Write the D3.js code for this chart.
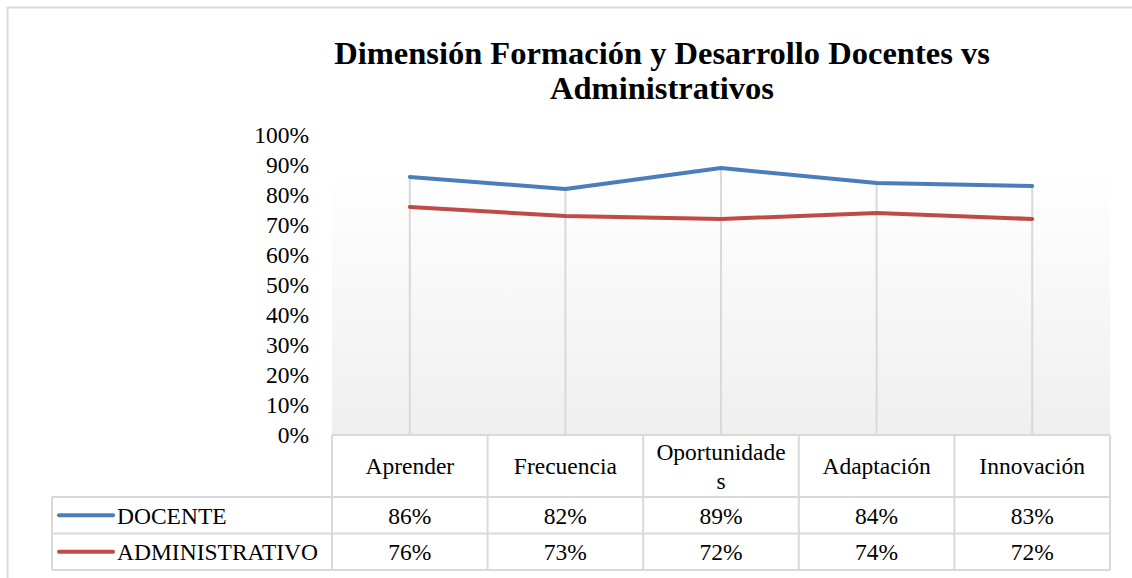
<!DOCTYPE html>
<html>
<head>
<meta charset="utf-8">
<script src="https://cdn.jsdelivr.net/npm/d3@7"></script>
</head>
<body style="margin:0">
<svg width="1132" height="578" font-family="Liberation Serif"></svg>
<script>
// data
let categories = ["Aprender", "Frecuencia", "Oportunidades", "Adaptación", "Innovación"];
let headerLines = [["Aprender"], ["Frecuencia"], ["Oportunidade", "s"], ["Adaptación"], ["Innovación"]];
let docente = [0.86, 0.82, 0.89, 0.84, 0.83];
let administrativo = [0.76, 0.73, 0.72, 0.74, 0.72];
let yTicks = [0, 0.1, 0.2, 0.3, 0.4, 0.5, 0.6, 0.7, 0.8, 0.9, 1];
let seriesNames = ["DOCENTE", "ADMINISTRATIVO"];
let seriesColors = ["#4a7ebb", "#be4b48"];

let svg = d3.select("svg");
let series = [docente, administrativo];

let plot = { left: 332, right: 1110, top: 135, bottom: 435 };
let gridColor = "#d9d9d9";
let serif = "'Liberation Serif'";
let fontSize = "23.5px";

let x = d3.scaleBand()
    .domain(categories)
    .range([plot.left, plot.right]);

let y = d3.scaleLinear()
    .domain([0, 1])
    .range([plot.bottom, plot.top]);

let cx = c => x(c) + x.bandwidth() / 2;

// outer frame (cropped on right and bottom)
svg.append("rect")
    .attr("x", 7.5).attr("y", 7.5)
    .attr("width", 1140).attr("height", 600)
    .attr("fill", "none")
    .attr("stroke", "#d9d9d9")
    .attr("stroke-width", 2);

// title
["Dimensión Formación y Desarrollo Docentes vs", "Administrativos"].forEach((t, i) => {
    svg.append("text")
        .attr("x", 662)
        .attr("y", 64 + i * 35)
        .attr("text-anchor", "middle")
        .style("font-family", serif)
        .style("font-size", "32.5px")
        .style("font-weight", "bold")
        .text(t);
});

// plot area gradient
let defs = svg.append("defs");
let grad = defs.append("linearGradient")
    .attr("id", "plotGrad")
    .attr("x1", 0).attr("y1", 0).attr("x2", 0).attr("y2", 1);
grad.append("stop").attr("offset", "0%").attr("stop-color", "#ffffff");
grad.append("stop").attr("offset", "100%").attr("stop-color", "#efefef");

svg.append("rect")
    .attr("x", plot.left)
    .attr("y", y(0.88))
    .attr("width", plot.right - plot.left)
    .attr("height", plot.bottom - y(0.88))
    .attr("fill", "url(#plotGrad)");

// y axis labels
svg.append("g")
    .selectAll("text")
    .data(yTicks)
    .enter().append("text")
    .attr("x", 309)
    .attr("y", d => y(d) + 8)
    .attr("text-anchor", "end")
    .style("font-family", serif)
    .style("font-size", fontSize)
    .text(d => d3.format(".0%")(d));

// drop lines
svg.append("g")
    .selectAll("line")
    .data(categories)
    .enter().append("line")
    .attr("x1", d => cx(d))
    .attr("x2", d => cx(d))
    .attr("y1", (d, i) => y(d3.max(series, s => s[i])))
    .attr("y2", plot.bottom)
    .attr("stroke", gridColor)
    .attr("stroke-width", 2);

// lines
let line = d3.line()
    .x((d, i) => cx(categories[i]))
    .y(d => y(d));

svg.append("g")
    .selectAll("path")
    .data(series)
    .enter().append("path")
    .attr("d", d => line(d))
    .attr("fill", "none")
    .attr("stroke", (d, i) => seriesColors[i])
    .attr("stroke-width", 4)
    .attr("stroke-linejoin", "round")
    .attr("stroke-linecap", "round");

// data table
let table = svg.append("g");
let headerBottom = 497, rowH = 36.5, legendLeft = 52;
let border = (x1, y1, x2, y2) => table.append("line")
    .attr("x1", x1).attr("y1", y1).attr("x2", x2).attr("y2", y2)
    .attr("stroke", gridColor).attr("stroke-width", 2);

// horizontal borders
border(plot.left, plot.bottom, plot.right, plot.bottom);
border(legendLeft, headerBottom, plot.right, headerBottom);
border(legendLeft, headerBottom + rowH, plot.right, headerBottom + rowH);
border(legendLeft, headerBottom + 2 * rowH, plot.right, headerBottom + 2 * rowH);
// vertical borders
border(legendLeft, headerBottom, legendLeft, headerBottom + 2 * rowH);
categories.forEach(c => border(x(c), plot.bottom, x(c), headerBottom + 2 * rowH));
border(plot.right, plot.bottom, plot.right, headerBottom + 2 * rowH);

// header labels
categories.forEach((c, i) => {
    let lines = headerLines[i];
    let cy = (plot.bottom + headerBottom) / 2;
    lines.forEach((l, j) => {
        table.append("text")
            .attr("x", cx(c))
            .attr("y", cy + 8 + (j - (lines.length - 1) / 2) * 29)
            .attr("text-anchor", "middle")
            .style("font-family", serif)
            .style("font-size", fontSize)
            .text(l);
    });
});

// rows
series.forEach((s, r) => {
    let cy = headerBottom + rowH * r + rowH / 2;
    table.append("line")
        .attr("x1", 59).attr("x2", 113)
        .attr("y1", cy).attr("y2", cy)
        .attr("stroke", seriesColors[r])
        .attr("stroke-width", 4)
        .attr("stroke-linecap", "round");
    table.append("text")
        .attr("x", 117).attr("y", cy + 8.5)
        .style("font-family", serif)
        .style("font-size", fontSize)
        .text(seriesNames[r]);
    table.selectAll(null)
        .data(s)
        .enter().append("text")
        .attr("x", (d, i) => cx(categories[i]))
        .attr("y", cy + 8.5)
        .attr("text-anchor", "middle")
        .style("font-family", serif)
        .style("font-size", fontSize)
        .text(d => d3.format(".0%")(d));
});
</script>
</body>
</html>
